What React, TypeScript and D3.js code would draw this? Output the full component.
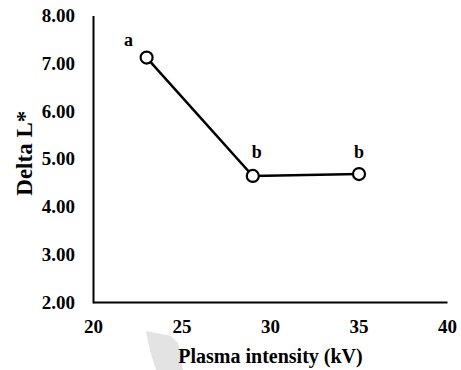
import React from "react";
import * as d3 from "d3";

const xValues = [23, 29, 35];
const yValues = [7.13, 4.65, 4.69];
const groupLabels = ["a", "b", "b"];
const xTicks = [20, 25, 30, 35, 40];
const yTicks = [2, 3, 4, 5, 6, 7, 8];

const W = 461;
const H = 370;
const FONT = '"Liberation Serif", "Times New Roman", Times, serif';

export default function App() {
  const x = d3.scaleLinear().domain([20, 40]).range([93.5, 447.5]);
  const y = d3.scaleLinear().domain([2, 8]).range([302.5, 16]);
  const pts = xValues.map((v, i) => [v, yValues[i]] as [number, number]);
  const line = d3
    .line<[number, number]>()
    .x((d) => x(d[0]))
    .y((d) => y(d[1]));
  const labelOffsets = [
    [-18, -12],
    [4, -18],
    [0, -16],
  ];
  const ts: React.CSSProperties = { fontFamily: FONT, fontWeight: 700 };

  return (
    <svg
      width={W}
      height={H}
      style={{ position: "absolute", left: 0, top: 0, background: "#fff" }}
    >
      <rect width={W} height={H} fill="#fff" />
      {/* scan artifact */}
      <polygon
        points="146,331 171,336 178,343 183,370 156,370 150,351"
        fill="#e3e3e3"
      />
      {/* axes */}
      <line x1={x(20)} x2={x(20)} y1={y(8)} y2={y(2) + 1} stroke="#000" strokeWidth={2} />
      <line x1={x(20)} x2={x(40)} y1={y(2)} y2={y(2)} stroke="#000" strokeWidth={2} />
      {yTicks.map((t) => (
        <text key={t} x={75} y={y(t) + 6} textAnchor="end" fontSize={19} fill="#000" style={ts}>
          {t.toFixed(2)}
        </text>
      ))}
      {xTicks.map((t) => (
        <text key={t} x={x(t)} y={333} textAnchor="middle" fontSize={19} fill="#000" style={ts}>
          {t}
        </text>
      ))}
      <text x={x(30)} y={363} textAnchor="middle" fontSize={20} fill="#000" style={ts}>
        Plasma intensity (kV)
      </text>
      <text
        transform={`translate(32, ${(y(8) + y(2)) / 2 - 6}) rotate(-90)`}
        textAnchor="middle"
        fontSize={23}
        fill="#000"
        style={ts}
      >
        Delta L*
      </text>
      <path d={line(pts) ?? ""} fill="none" stroke="#000" strokeWidth={2.5} />
      {pts.map((p, i) => (
        <circle key={i} cx={x(p[0])} cy={y(p[1])} r={6} fill="#fff" stroke="#000" strokeWidth={2.2} />
      ))}
      {pts.map((p, i) => (
        <text
          key={"l" + i}
          x={x(p[0]) + labelOffsets[i][0]}
          y={y(p[1]) + labelOffsets[i][1]}
          textAnchor="middle"
          fontSize={18}
          fill="#000"
          style={ts}
        >
          {groupLabels[i]}
        </text>
      ))}
    </svg>
  );
}
